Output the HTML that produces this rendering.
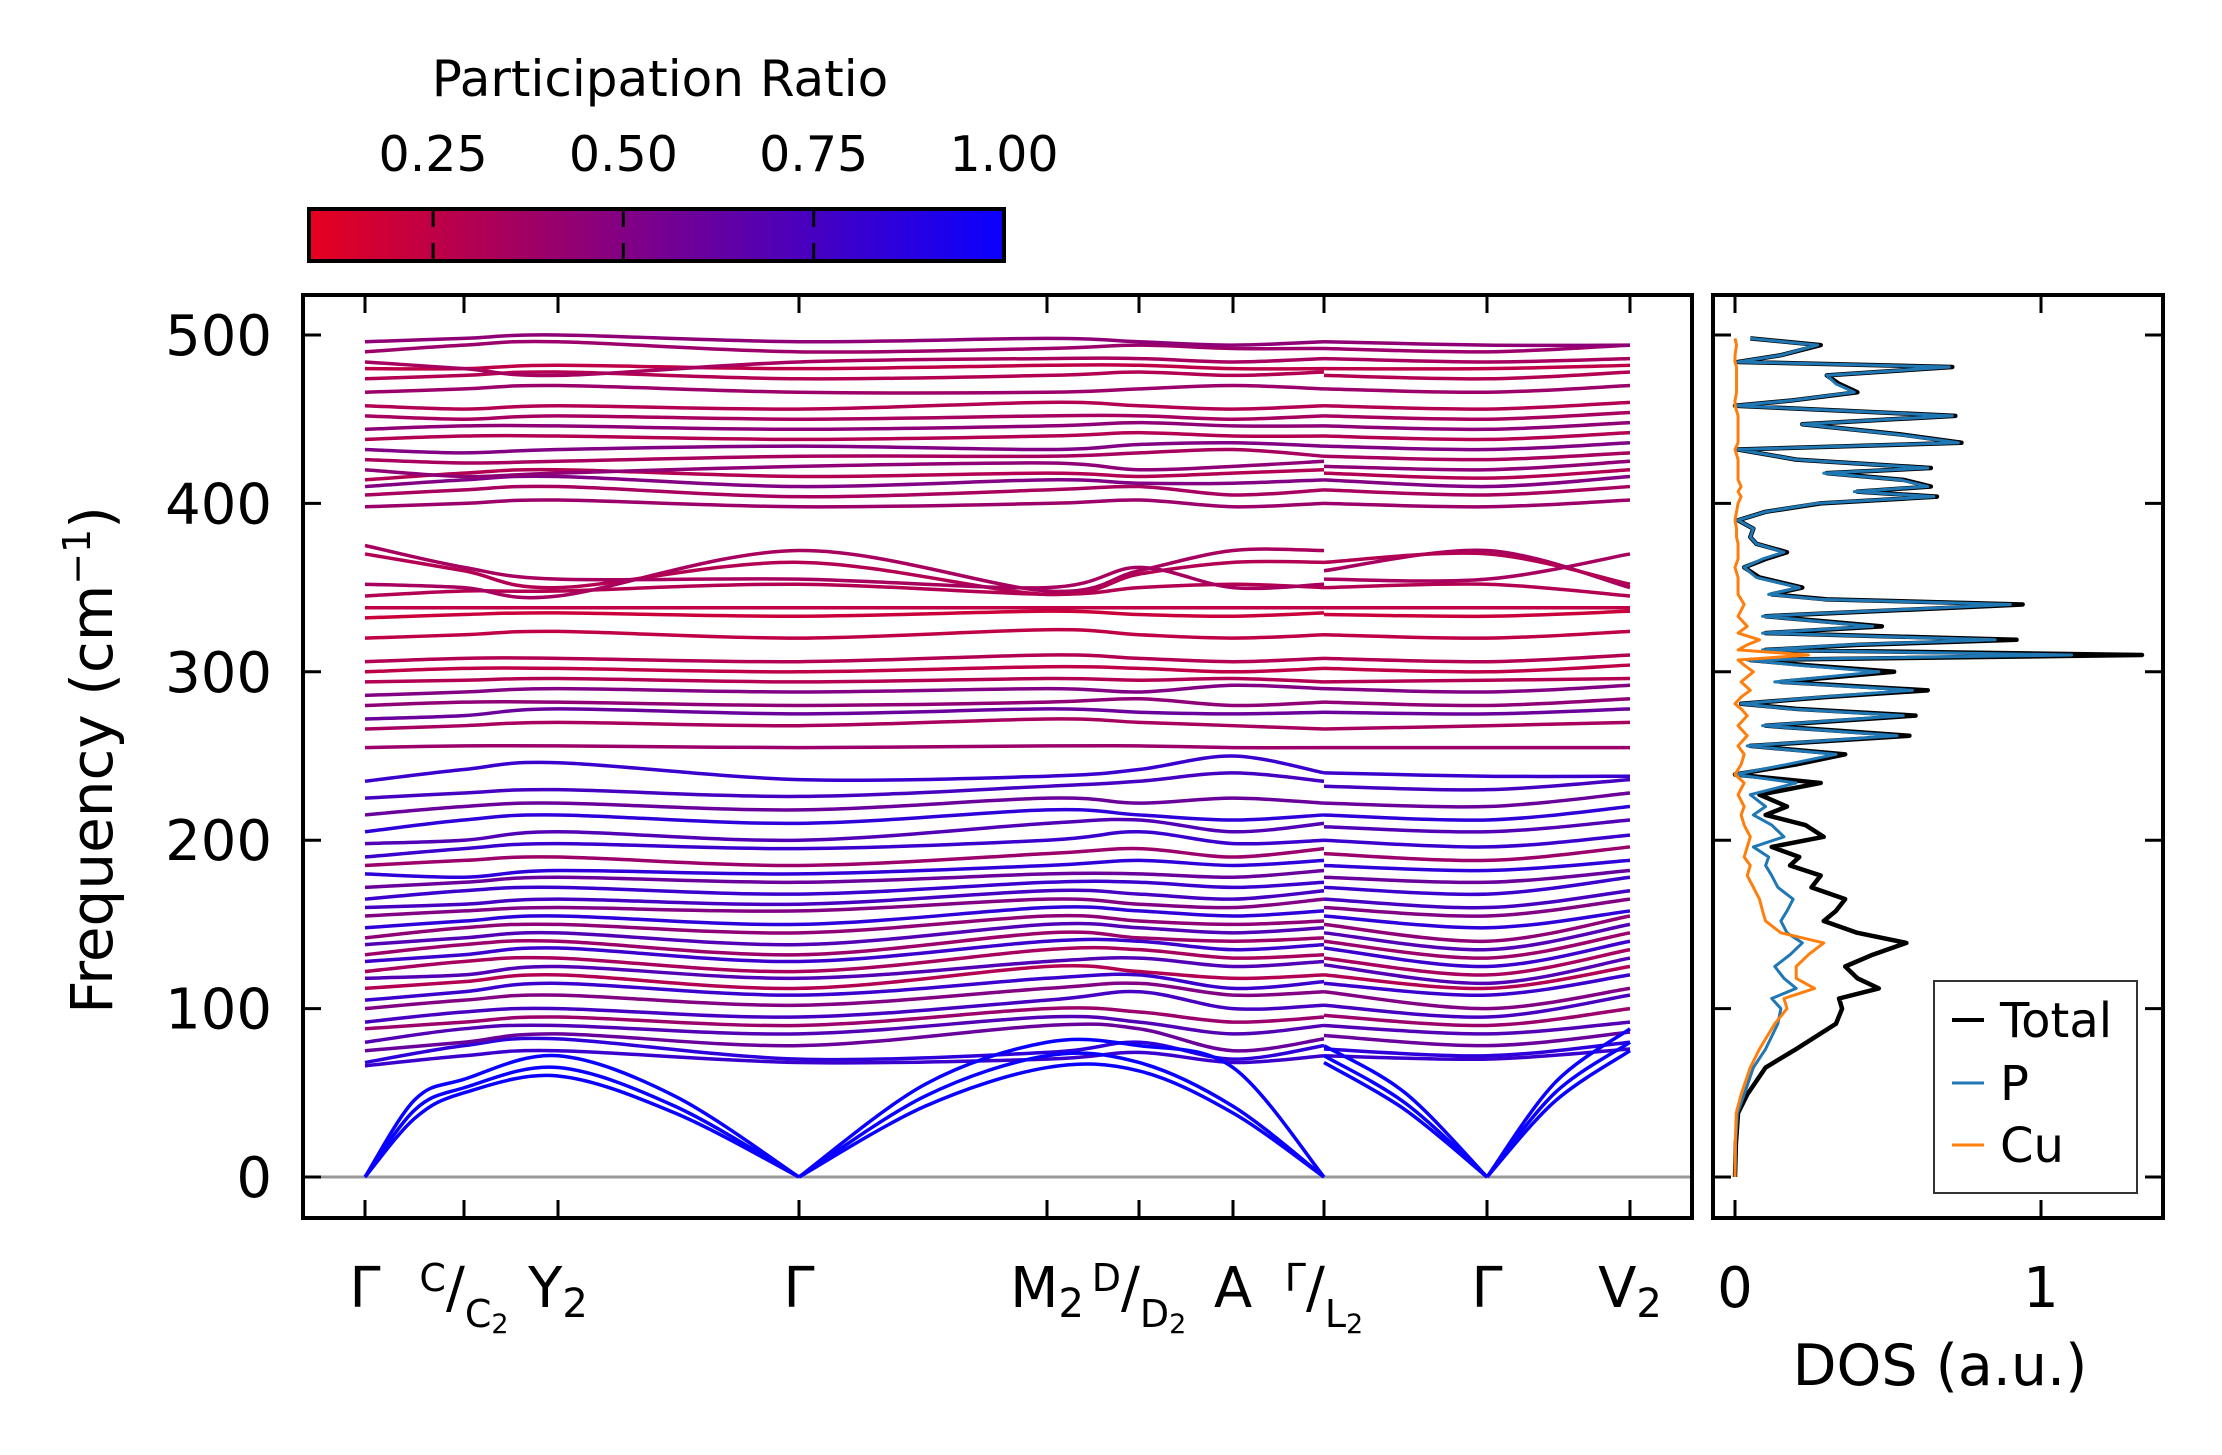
<!DOCTYPE html>
<html><head><meta charset="utf-8"><style>
html,body{margin:0;padding:0;background:#fff;}
svg{display:block;font-family:"DejaVu Sans","Liberation Sans",sans-serif;}
</style></head><body>
<svg id="fig" width="2222" height="1455" viewBox="0 0 2222 1455">
<defs>
<linearGradient id="cmap" x1="0" x2="1" y1="0" y2="0">
<stop offset="0" stop-color="rgb(230,0,30)"/><stop offset="1" stop-color="rgb(10,0,255)"/>
</linearGradient>
<clipPath id="mainclip"><rect x="303" y="295" width="1389" height="923"/></clipPath>
<clipPath id="dosclip"><rect x="1713" y="295" width="450" height="923"/></clipPath>
</defs>
<g>
<text x="660" y="96" font-size="50" text-anchor="middle">Participation Ratio</text>
<rect x="309" y="209" width="695" height="52" fill="url(#cmap)"/>
<g id="cbticks"></g>
<rect x="309" y="209" width="695" height="52" fill="none" stroke="#000" stroke-width="4"/>
</g>
<g id="main">
<line x1="303" x2="1692" id="zeroline" stroke="#999" stroke-width="3"/>
<g id="bands" clip-path="url(#mainclip)"></g>
<g id="mainticks"></g>
<rect x="303" y="295" width="1389" height="923" fill="none" stroke="#000" stroke-width="4"/>
<text transform="translate(112,760) rotate(-90)" font-size="58" text-anchor="middle">Frequency (cm<tspan baseline-shift="super" font-size="38">−1</tspan>)</text>
</g>
<g id="dos">
<g id="doslines" clip-path="url(#dosclip)"></g>
<g id="dosticks"></g>
<rect x="1713" y="295" width="450" height="923" fill="none" stroke="#000" stroke-width="4"/>
<text x="1940" y="1385" font-size="57" text-anchor="middle">DOS (a.u.)</text>
<g>
<rect x="1934" y="981" width="203" height="212" fill="#fff" stroke="#333" stroke-width="2"/>
<line x1="1952" x2="1984" y1="1020" y2="1020" stroke="#000" stroke-width="4"/>
<text x="2000" y="1037" font-size="48">Total</text>
<line x1="1952" x2="1984" y1="1083" y2="1083" stroke="#1f77b4" stroke-width="3"/>
<text x="2000" y="1100" font-size="48">P</text>
<line x1="1952" x2="1984" y1="1145" y2="1145" stroke="#ff7f0e" stroke-width="3"/>
<text x="2000" y="1162" font-size="48">Cu</text>
</g>
</g>
</svg>
<script>
// ---- data ----
const kDist = [0, 0.99, 1.93, 4.34, 6.82, 7.74, 8.68, 9.59, 11.22, 12.65];
const kLabels = ["Γ", "C|C2", "Y2", "Γ", "M2", "D|D2", "A", "Γ|L2", "Γ", "V2"];
const yTicks = [0, 100, 200, 300, 400, 500];
const cbTicks = [0.25, 0.50, 0.75, 1.00];
// band: [participation ratio, 8 values on segment 1 (Γ..Γ), 3 values on segment 2 (L2, Γ, V2)]
const bands = [
[0.8,66,72,75,68,70,74,68,72,72,70,76],
[0.85,68,78,82,70,74,80,70,78,76,72,80],
[0.6,75,80,85,78,90,88,75,82,84,78,86],
[0.7,80,88,90,85,95,92,85,90,90,85,92],
[0.4,88,92,95,90,100,98,92,95,96,90,100],
[0.75,92,98,100,95,105,110,100,102,102,95,108],
[0.5,100,105,108,102,112,115,108,110,110,100,112],
[0.8,105,110,115,108,118,120,112,116,115,108,120],
[0.3,112,116,120,112,125,122,118,120,120,112,125],
[0.7,118,120,125,118,128,130,125,128,126,115,130],
[0.35,122,128,130,122,135,135,130,132,130,120,135],
[0.8,128,132,136,128,140,140,135,138,136,125,140],
[0.4,132,138,140,132,145,142,140,142,140,130,145],
[0.7,138,142,145,138,150,148,145,148,145,135,150],
[0.45,142,148,150,145,155,152,150,152,150,140,155],
[0.85,148,152,155,150,160,158,155,158,155,148,158],
[0.5,155,158,160,158,165,162,160,165,160,155,165],
[0.75,160,162,165,162,170,168,165,170,165,160,170],
[0.8,165,170,172,168,175,175,172,175,172,168,178],
[0.6,172,175,178,175,180,180,178,182,178,175,182],
[0.85,180,178,182,180,185,188,185,188,185,182,188],
[0.4,185,188,190,185,192,195,190,195,192,188,196],
[0.8,190,195,198,195,200,205,198,200,200,196,203],
[0.7,198,200,205,200,210,212,205,210,208,205,212],
[0.85,205,212,215,210,218,215,212,215,215,212,220],
[0.6,215,220,222,218,225,222,225,222,222,220,228],
[0.75,225,228,230,226,232,235,240,235,232,230,236],
[0.8,235,242,246,236,238,242,250,240,240,238,238],
[0.4,255,256,256,255,256,256,255,255,255,255,255],
[0.35,266,268,270,268,272,270,268,266,266,268,270],
[0.6,272,274,278,275,278,276,275,276,276,275,278],
[0.45,280,282,282,280,282,284,280,282,282,280,284],
[0.5,286,288,290,288,290,288,292,290,290,288,292],
[0.3,294,295,296,294,296,295,296,294,294,295,296],
[0.25,300,302,302,300,303,302,300,302,302,300,304],
[0.3,306,308,308,306,310,308,306,308,308,306,310],
[0.25,320,322,324,320,325,322,320,322,322,320,324],
[0.2,332,334,335,333,336,334,333,335,334,333,336],
[0.25,338,338,338,338,338,338,338,338,338,338,338],
[0.3,345,348,348,352,346,350,352,350,350,352,345],
[0.35,352,350,345,372,348,360,372,372,360,372,350],
[0.3,370,360,350,365,346,358,365,365,365,370,352],
[0.35,375,362,355,355,350,362,350,352,355,355,370],
[0.4,398,400,402,398,400,402,398,400,400,398,402],
[0.35,405,408,410,404,408,410,405,408,408,405,410],
[0.5,410,414,416,410,414,412,412,414,414,410,416],
[0.3,414,418,420,416,418,416,418,420,418,415,420],
[0.45,420,416,418,422,424,420,422,425,422,420,425],
[0.35,426,424,425,428,428,430,432,428,428,426,430],
[0.5,432,430,432,434,432,435,436,434,434,432,436],
[0.3,438,440,440,438,440,442,440,440,440,438,442],
[0.45,444,446,446,444,446,448,446,446,446,444,448],
[0.35,452,450,452,450,452,452,450,452,452,450,454],
[0.3,458,456,458,456,460,458,456,458,458,456,460],
[0.4,466,468,470,466,466,468,470,468,468,466,470],
[0.3,474,476,478,474,476,478,476,478,476,474,478],
[0.25,480,480,482,480,482,482,480,480,480,480,482],
[0.35,484,480,476,484,486,486,484,486,486,484,486],
[0.4,490,494,496,490,492,494,492,492,492,490,494],
[0.45,496,498,500,496,498,496,494,496,496,494,494]
];
// acoustic branches: values at k-points plus midpoints between them (for curvature)
const acousticK = [0, 0.5, 0.99, 1.93, 3.1, 4.34, 5.6, 6.82, 7.74, 8.68, 9.59];
const acousticK2 = [9.59, 10.4, 11.22, 11.9, 12.65];
const acoustic1 = [0, 35, 50, 60, 38, 0, 42, 65, 63, 38, 0];
const acoustic2 = [0, 40, 53, 65, 42, 0, 48, 72, 68, 42, 0];
const acoustic3 = [0, 46, 58, 72, 48, 0, 55, 80, 78, 65, 0];
const acoustic1b = [68, 40, 0, 45, 75];
const acoustic2b = [72, 44, 0, 50, 80];
const acoustic3b = [78, 50, 0, 56, 88];
const dosFreq = [0,20,38,49,65,76,91,100,106,112,118,125,132,139,145,152,158,165,172,179,185,190,196,202,209,215,220,227,234,239,245,251,256,262,268,274,278,281,285,289,294,300,304,307,310,313,316,319,323,327,333,340,343,346,350,356,362,367,371,376,380,385,390,395,400,404,407,410,414,418,421,426,432,436,441,447,452,458,461,466,471,476,481,484,488,494,498];
const dosTotal = [0,0.003,0.01,0.04,0.10,0.20,0.33,0.35,0.34,0.47,0.40,0.36,0.45,0.56,0.40,0.29,0.33,0.36,0.25,0.28,0.18,0.21,0.12,0.29,0.23,0.1,0.17,0.08,0.28,0.0,0.2,0.36,0.05,0.57,0.1,0.59,0.2,0.02,0.3,0.63,0.15,0.52,0.23,0.05,1.33,0.1,0.4,0.92,0.1,0.48,0.1,0.94,0.3,0.12,0.22,0.08,0.03,0.1,0.17,0.07,0.05,0.06,0.01,0.1,0.28,0.66,0.4,0.64,0.55,0.3,0.64,0.2,0.01,0.74,0.54,0.22,0.72,0.0,0.18,0.4,0.34,0.3,0.71,0.01,0.15,0.28,0.05];
const dosP = [0,0.002,0.008,0.03,0.06,0.1,0.14,0.15,0.12,0.2,0.16,0.13,0.18,0.22,0.17,0.15,0.17,0.19,0.14,0.12,0.1,0.11,0.06,0.16,0.12,0.06,0.1,0.05,0.2,0.0,0.17,0.33,0.04,0.53,0.09,0.55,0.18,0.02,0.28,0.58,0.13,0.47,0.2,0.04,1.1,0.09,0.37,0.85,0.09,0.45,0.09,0.9,0.28,0.11,0.21,0.07,0.03,0.09,0.16,0.07,0.05,0.06,0.01,0.1,0.27,0.65,0.39,0.63,0.54,0.29,0.63,0.2,0.01,0.73,0.53,0.22,0.71,0.0,0.18,0.39,0.33,0.3,0.7,0.01,0.15,0.27,0.05];
const dosCu = [0,0.001,0.004,0.02,0.05,0.08,0.13,0.17,0.16,0.26,0.2,0.2,0.24,0.29,0.15,0.1,0.09,0.08,0.06,0.04,0.05,0.03,0.04,0.05,0.03,0.02,0.03,0.01,0.03,0.0,0.02,0.03,0.01,0.04,0.01,0.04,0.02,0.0,0.02,0.05,0.02,0.06,0.03,0.01,0.24,0.01,0.04,0.08,0.01,0.04,0.01,0.03,0.02,0.01,0.01,0.01,0.0,0.01,0.01,0.01,0.005,0.005,0,0.005,0.01,0.02,0.01,0.02,0.01,0.01,0.01,0.01,0,0.01,0.01,0.01,0.01,0,0,0.005,0.005,0.005,0.005,0,0,0.005,0];
const dosXTicks = [0, 1];

// ---- scales ----
const NS = "http://www.w3.org/2000/svg";
const yS = v => 1177 - 1.684 * v;
const kX = d => 365 + 100 * d;
const dosX = v => 1735 + 306 * v;
const cbX = v => 309 + (v - 0.087) / (1.0 - 0.087) * 695;
function cmap(p) {
  let t = (p - 0.087) / (1 - 0.087); t = Math.max(0, Math.min(1, t));
  return `rgb(${Math.round(230 - 220 * t)},0,${Math.round(30 + 225 * t)})`;
}
function mk(tag, attrs, parent) {
  const e = document.createElementNS(NS, tag);
  for (const k in attrs) e.setAttribute(k, attrs[k]);
  parent.appendChild(e); return e;
}
function smooth(pts) {
  let d = `M${pts[0][0]},${pts[0][1]}`;
  for (let i = 0; i < pts.length - 1; i++) {
    const p0 = pts[Math.max(0, i - 1)], p1 = pts[i], p2 = pts[i + 1], p3 = pts[Math.min(pts.length - 1, i + 2)];
    const c1 = [p1[0] + (p2[0] - p0[0]) / 6, p1[1] + (p2[1] - p0[1]) / 6];
    const c2 = [p2[0] - (p3[0] - p1[0]) / 6, p2[1] - (p3[1] - p1[1]) / 6];
    d += ` C${c1[0]},${c1[1]} ${c2[0]},${c2[1]} ${p2[0]},${p2[1]}`;
  }
  return d;
}
function line(pts) { return "M" + pts.map(p => p[0] + "," + p[1]).join(" L"); }
function acousticPath(ks, vs) {
  let d = "", seg = [];
  for (let i = 0; i < ks.length; i++) {
    seg.push([kX(ks[i]), yS(vs[i])]);
    if (vs[i] === 0 && seg.length > 1) { d += smooth(seg) + " "; seg = [[kX(ks[i]), yS(vs[i])]]; }
  }
  if (seg.length > 1) d += smooth(seg);
  return d;
}

const zl = document.getElementById("zeroline");
zl.setAttribute("y1", yS(0)); zl.setAttribute("y2", yS(0));

const cbt = document.getElementById("cbticks");
cbTicks.forEach(v => {
  const x = cbX(v);
  const tl = mk("line", {x1: x, x2: x, y1: 209, y2: 227, stroke: "#000", "stroke-width": 3}, cbt);
  
  
  const bl = mk("line", {x1: x, x2: x, y1: 243, y2: 261, stroke: "#000", "stroke-width": 3}, cbt);
  
  
  const t = mk("text", {x: x, y: 171, "font-size": 49, "text-anchor": "middle"}, cbt);
  t.textContent = v.toFixed(2);
  
  
});

const bg = document.getElementById("bands");
bands.forEach(b => {
  const col = cmap(b[0]);
  const s1 = [], s2 = [];
  for (let j = 0; j < 8; j++) s1.push([kX(kDist[j]), yS(b[1 + j])]);
  for (let j = 0; j < 3; j++) s2.push([kX(kDist[7 + j]), yS(b[9 + j])]);
  const p1 = mk("path", {d: smooth(s1), fill: "none", stroke: col, "stroke-width": 3.5}, bg);
  
  
  const p2 = mk("path", {d: smooth(s2), fill: "none", stroke: col, "stroke-width": 3.5}, bg);
  
  
});
[[acoustic1, acoustic1b], [acoustic2, acoustic2b], [acoustic3, acoustic3b]].forEach(a => {
  const p1 = mk("path", {d: acousticPath(acousticK, a[0]), fill: "none", stroke: cmap(1.0), "stroke-width": 3.5}, bg);
  
  
  const p2 = mk("path", {d: acousticPath(acousticK2, a[1]), fill: "none", stroke: cmap(1.0), "stroke-width": 3.5}, bg);
  
  
});

const mt = document.getElementById("mainticks");
yTicks.forEach(v => {
  const y = yS(v);
  const l = mk("line", {x1: 303, x2: 321, y1: y, y2: y, stroke: "#000", "stroke-width": 3}, mt);
  
  
  const t = mk("text", {x: 272, y: y + 20, "font-size": 56, "text-anchor": "end"}, mt);
  t.textContent = v;
  
  
});
kDist.forEach((d, i) => {
  const x = kX(d);
  const l1 = mk("line", {x1: x, x2: x, y1: 1218, y2: 1200, stroke: "#000", "stroke-width": 3}, mt);
  
  
  const l2 = mk("line", {x1: x, x2: x, y1: 295, y2: 313, stroke: "#000", "stroke-width": 3}, mt);
  
  
  const lab = kLabels[i];
  const t = mk("text", {x: x, y: 1307, "font-size": 56, "text-anchor": "middle"}, mt);
  
  
  if (lab.includes("|")) {
    const [a, b2] = lab.split("|");
    const s1 = mk("tspan", {"font-size": 38, dy: -16}, t); s1.textContent = a;
    const s2 = mk("tspan", {"font-size": 56, dy: 16}, t); s2.textContent = "/";
    const s3 = mk("tspan", {"font-size": 38, dy: 20}, t); s3.textContent = b2.replace("2", "");
    if (b2.endsWith("2")) { const s4 = mk("tspan", {"font-size": 27, dy: 6}, t); s4.textContent = "2"; }
  } else if (lab.endsWith("2")) {
    const s1 = mk("tspan", {}, t); s1.textContent = lab.slice(0, -1);
    const s2 = mk("tspan", {"font-size": 40, dy: 10}, t); s2.textContent = "2";
  } else t.textContent = lab;
});

const dl = document.getElementById("doslines");
const series = [[dosTotal, "#000", 4.5, "dos-total-line"], [dosP, "#1f77b4", 3, "dos-p-line"], [dosCu, "#ff7f0e", 3, "dos-cu-line"]];
series.forEach(s => {
  const pts = dosFreq.map((f, i) => [dosX(s[0][i]), yS(f)]);
  const p = mk("path", {d: line(pts), fill: "none", stroke: s[1], "stroke-width": s[2], "stroke-linejoin": "round"}, dl);
  
  
});
const dt = document.getElementById("dosticks");
yTicks.forEach(v => {
  const y = yS(v);
  const a = mk("line", {x1: 1713, x2: 1731, y1: y, y2: y, stroke: "#000", "stroke-width": 3}, dt);
  
  
  const b = mk("line", {x1: 2145, x2: 2163, y1: y, y2: y, stroke: "#000", "stroke-width": 3}, dt);
  
  
});
dosXTicks.forEach(v => {
  const x = dosX(v);
  const a = mk("line", {x1: x, x2: x, y1: 1218, y2: 1200, stroke: "#000", "stroke-width": 3}, dt);
  
  
  const b = mk("line", {x1: x, x2: x, y1: 295, y2: 313, stroke: "#000", "stroke-width": 3}, dt);
  
  
  const t = mk("text", {x: x, y: 1307, "font-size": 56, "text-anchor": "middle"}, dt);
  t.textContent = v;
  
  
});
</script>
</body></html>
